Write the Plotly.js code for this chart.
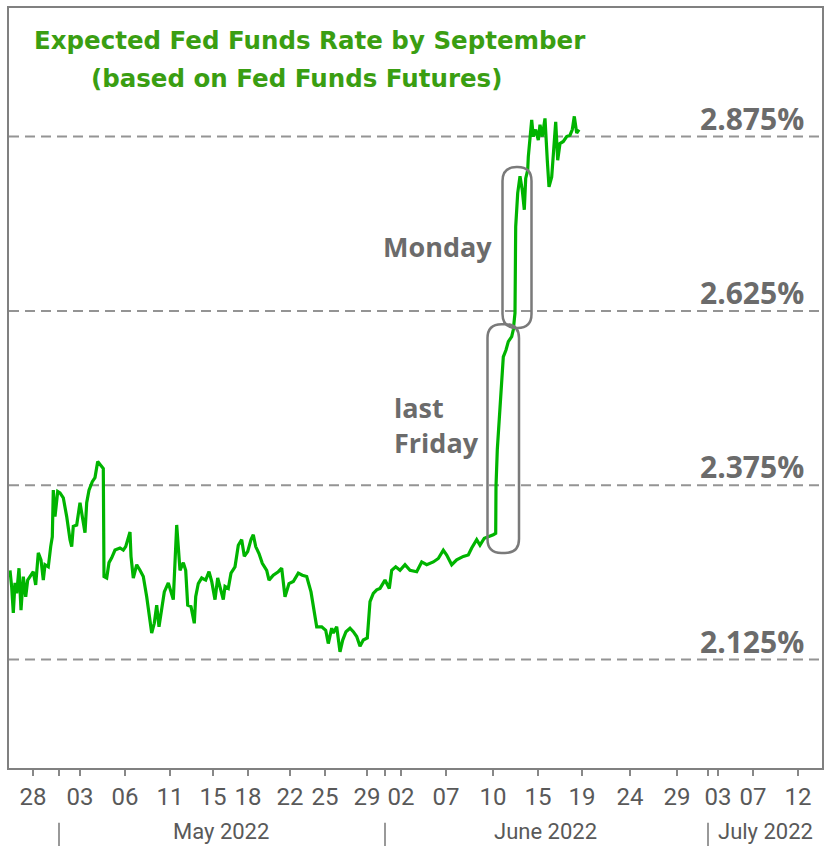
<!DOCTYPE html>
<html><head><meta charset="utf-8">
<script src="https://cdn.plot.ly/plotly-3.0.1.min.js"></script>
<style>html,body{margin:0;padding:0;background:#fff}#chart{width:825px;height:846px}</style>
</head><body><div id="chart"></div>
<script>
// session index (approx. trading-day position on the chart's time axis)
const sessionIdx = [0.10,0.27,0.43,0.60,0.77,1.00,1.20,1.43,1.67,1.87,2.10,2.43,2.67,2.93,3.20,3.43,3.60,3.93,4.17,4.33,4.43,4.60,4.87,5.10,5.43,5.77,6.10,6.27,6.43,6.77,7.10,7.33,7.60,7.77,8.00,8.33,8.60,8.87,9.20,9.43,9.50,9.77,10.00,10.27,10.60,11.10,11.43,11.67,12.10,12.20,12.43,12.77,13.10,13.43,13.77,14.00,14.27,14.53,14.77,15.00,15.27,15.53,15.93,16.43,16.77,17.00,17.10,17.43,17.67,17.87,18.20,18.53,18.67,18.93,19.27,19.67,20.00,20.27,20.60,20.87,21.10,21.43,21.60,21.93,22.20,22.60,22.93,23.27,23.53,23.87,24.20,24.43,24.67,25.00,25.33,25.77,26.00,26.43,26.93,27.27,27.60,28.00,28.43,28.93,29.33,29.77,30.20,30.60,30.77,31.27,31.67,31.93,32.27,32.43,32.77,33.10,33.37,33.70,34.10,34.43,34.77,35.10,35.43,35.83,36.10,36.43,36.77,37.10,37.60,38.03,38.27,38.67,39.10,39.60,40.10,40.77,41.27,41.77,42.43,42.93,43.43,43.77,44.27,44.77,45.43,45.93,46.27,46.77,47.10,47.53,47.93,48.43,48.67,48.70,48.83,49.10,49.27,49.43,49.70,49.93,50.27,50.43,50.60,50.67,50.87,51.10,51.33,51.53,51.67,51.87,51.93,52.10,52.27,52.43,52.67,52.93,53.10,53.33,53.60,53.83,54.00,54.27,54.43,54.67,54.87,55.10,55.43,55.77,56.10,56.33,56.53,56.77,57.00];
// expected fed funds rate by September (%)
const expectedRate = [2.253,2.229,2.192,2.235,2.220,2.256,2.196,2.244,2.215,2.239,2.244,2.251,2.232,2.278,2.268,2.239,2.261,2.258,2.287,2.301,2.368,2.330,2.366,2.364,2.357,2.330,2.297,2.287,2.316,2.318,2.350,2.330,2.307,2.350,2.368,2.380,2.386,2.409,2.404,2.399,2.244,2.242,2.264,2.271,2.282,2.285,2.282,2.287,2.308,2.273,2.242,2.261,2.253,2.244,2.215,2.189,2.163,2.177,2.203,2.172,2.196,2.222,2.235,2.211,2.318,2.280,2.253,2.264,2.253,2.203,2.201,2.177,2.215,2.234,2.242,2.239,2.251,2.237,2.211,2.242,2.230,2.211,2.230,2.227,2.249,2.258,2.289,2.297,2.273,2.280,2.297,2.304,2.287,2.277,2.263,2.253,2.239,2.246,2.251,2.256,2.215,2.234,2.237,2.249,2.246,2.244,2.222,2.182,2.172,2.172,2.167,2.148,2.170,2.163,2.172,2.136,2.153,2.165,2.170,2.165,2.158,2.144,2.153,2.156,2.208,2.220,2.225,2.227,2.239,2.227,2.253,2.258,2.253,2.261,2.253,2.251,2.265,2.261,2.265,2.270,2.282,2.275,2.261,2.268,2.273,2.275,2.285,2.297,2.289,2.299,2.301,2.304,2.306,2.373,2.426,2.483,2.521,2.559,2.569,2.581,2.588,2.598,2.622,2.746,2.794,2.818,2.798,2.770,2.815,2.827,2.846,2.868,2.899,2.875,2.885,2.870,2.892,2.875,2.901,2.841,2.803,2.817,2.851,2.896,2.841,2.865,2.868,2.875,2.877,2.885,2.904,2.880,2.885];

const tickPos    = [2.4, 7.1, 11.6, 16.1, 20.4, 23.9, 28.1, 31.6, 35.8, 39.2, 43.7, 48.4, 52.9, 57.3, 62.1, 66.8, 70.9, 74.4, 78.9];
const tickLabels = ['28','03','06','11','15','18','22','25','29','02','07','10','15','19','24','29','03','07','12'];
const monthNames = ['May 2022','June 2022','July 2022'];
const monthMid   = [21.2, 53.6, 75.6];
const monthEdges = [5.0, 37.6, 69.9];
const levelVals  = [2.125, 2.375, 2.625, 2.875];
const levelText  = ['2.125%','2.375%','2.625%','2.875%'];

const allTicks = tickPos.map((v,i)=>({v, t:tickLabels[i]})).concat(monthEdges.map(v=>({v,t:''})))
  .sort((a,b)=>a.v-b.v);

function roundRect(x0,x1,y0,y1,rx,ry){
  return `M${x0+rx},${y0} L${x1-rx},${y0} Q${x1},${y0} ${x1},${y0+ry} L${x1},${y1-ry} Q${x1},${y1} ${x1-rx},${y1} `+
         `L${x0+rx},${y1} Q${x0},${y1} ${x0},${y1-ry} L${x0},${y0+ry} Q${x0},${y0} ${x0+rx},${y0} Z`;
}

const grey = '#6b6b6b';
const boldFont = 'Open Sans, DejaVu Sans, sans-serif';
const tickFont = 'Roboto, Liberation Sans, sans-serif';

const shapes = levelVals.map(v=>({type:'line', xref:'paper', yref:'y', x0:0, x1:1, y0:v, y1:v,
    line:{color:'#949494', width:2, dash:'10px,6px'}, layer:'below'}))
 .concat([
  {type:'path', xref:'x', yref:'y', path: roundRect(47.85, 51.0, 2.278, 2.606, 1.4, 0.020),
   line:{color:'#7a7a7a', width:2.5}},
  {type:'path', xref:'x', yref:'y', path: roundRect(49.35, 52.25, 2.6005, 2.8314, 1.4, 0.020),
   line:{color:'#7a7a7a', width:2.5}}
 ]).concat(monthEdges.map(v=>({type:'line', xref:'x', yref:'paper', x0:v, x1:v, y0:-0.072, y1:-0.11,
   line:{color:'#777', width:1.5}})));

const annotations = [
  {xref:'paper', yref:'paper', x:0.370, y:0.9566, xanchor:'center', yanchor:'middle', showarrow:false,
   text:'Expected Fed Funds Rate by September', font:{family:'DejaVu Sans, sans-serif', size:24.5, color:'#3a9e12', weight:'bold'}},
  {xref:'paper', yref:'paper', x:0.3536, y:0.9066, xanchor:'center', yanchor:'middle', showarrow:false,
   text:'(based on Fed Funds Futures)', font:{family:'DejaVu Sans, sans-serif', size:24.5, color:'#3a9e12', weight:'bold'}},
  {xref:'x', yref:'y', x:42.8, y:2.7167, xanchor:'center', yanchor:'middle', showarrow:false,
   text:'Monday', font:{family:boldFont, size:27, color:grey, weight:'bold'}},
  {xref:'x', yref:'y', x:38.3, y:2.4614, xanchor:'left', yanchor:'middle', showarrow:false, align:'left',
   text:'last<br>Friday', font:{family:boldFont, size:27, color:grey, weight:'bold'}}
].concat(levelVals.map((v,i)=>({xref:'paper', yref:'y', x:0.980, y:v, xanchor:'right', yanchor:'bottom', yshift:-4,
   showarrow:false, text:levelText[i], font:{family:boldFont, size:30, color:grey, weight:'bold'}})))
 .concat(monthNames.map((m,i)=>({xref:'x', yref:'paper', x:monthMid[i], y:-0.084, xanchor:'center', yanchor:'middle',
   showarrow:false, text:m, font:{family:tickFont, size:22, color:'#595959'}})));

const data = [{
  x: sessionIdx, y: expectedRate, type:'scatter', mode:'lines',
  line:{color:'#00b400', width:3.2}, hoverinfo:'skip'
}];

const layout = {
  width:825, height:846,
  margin:{l:9, r:3, t:8, b:78},
  paper_bgcolor:'#fff', plot_bgcolor:'#fff',
  showlegend:false,
  xaxis:{range:[0,81.3], tickmode:'array', tickvals:allTicks.map(d=>d.v), ticktext:allTicks.map(d=>d.t),
    ticks:'outside', ticklen:6, tickwidth:1.5, tickcolor:'#888',
    showline:true, linecolor:'#808080', linewidth:2, mirror:true, showgrid:false, zeroline:false,
    tickfont:{family:tickFont, size:24, color:'#595959'}},
  yaxis:{range:[1.9695,3.0594], showticklabels:false, ticks:'', showgrid:false,
    showline:true, linecolor:'#808080', linewidth:2, mirror:true, zeroline:false},
  shapes, annotations
};

Plotly.newPlot('chart', data, layout, {displayModeBar:false, staticPlot:true});
</script></body></html>
